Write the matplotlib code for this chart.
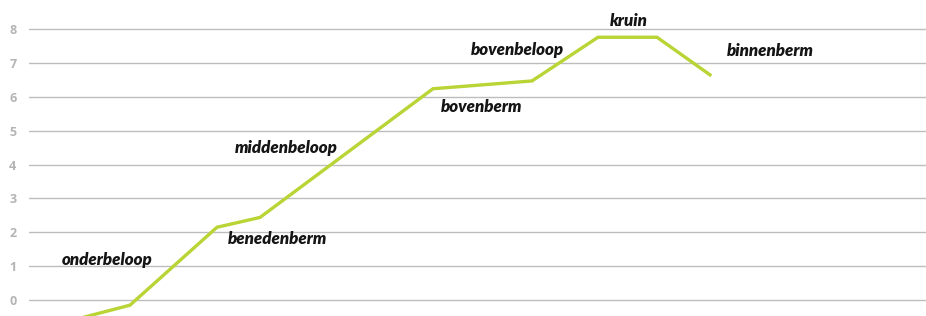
import matplotlib.pyplot as plt

# dwarsprofiel dijk: afstand (schaal zoals in figuur) en hoogte
afstand = [40, 101, 188, 231, 404, 503, 569, 628, 681]
hoogte = [-0.62, -0.15, 2.15, 2.44, 6.24, 6.47, 7.76, 7.76, 6.65]

labels = ["onderbeloop", "benedenberm", "middenbeloop", "bovenberm",
          "bovenbeloop", "kruin", "binnenberm"]
label_x = [78, 249, 257, 453, 488, 600, 741]
label_y = [1.18, 1.8, 4.48, 5.7, 7.38, 8.24, 7.35]

yticks = list(range(0, 9))

fig = plt.figure(figsize=(9.26, 3.16), dpi=100)
ax = fig.add_axes([0.0313, 0.0, 0.9687, 1.0])

ax.plot(afstand, hoogte, color="#b8d435", linewidth=2.4, solid_joinstyle="miter",
        clip_on=True, zorder=3)

for t, x, y in zip(labels, label_x, label_y):
    ax.text(x, y, t, ha="center", va="center", fontsize=12.2, family="Lato",
            fontweight="heavy", fontstyle="italic", color="#151515", zorder=4)

ax.set_xlim(0, 897)
ax.set_ylim(-0.47, 8.86)
ax.set_yticks(yticks)
ax.set_yticklabels([str(v) for v in yticks], fontsize=9, fontweight="bold",
                   color="#b4b4b4", family="Open Sans")
ax.tick_params(axis="y", length=0, pad=9)
ax.set_xticks([])
ax.grid(axis="y", color="#bdbdbd", linewidth=1.0)
ax.set_axisbelow(True)
for s in ax.spines.values():
    s.set_visible(False)

fig.savefig("out.png", dpi=100)
